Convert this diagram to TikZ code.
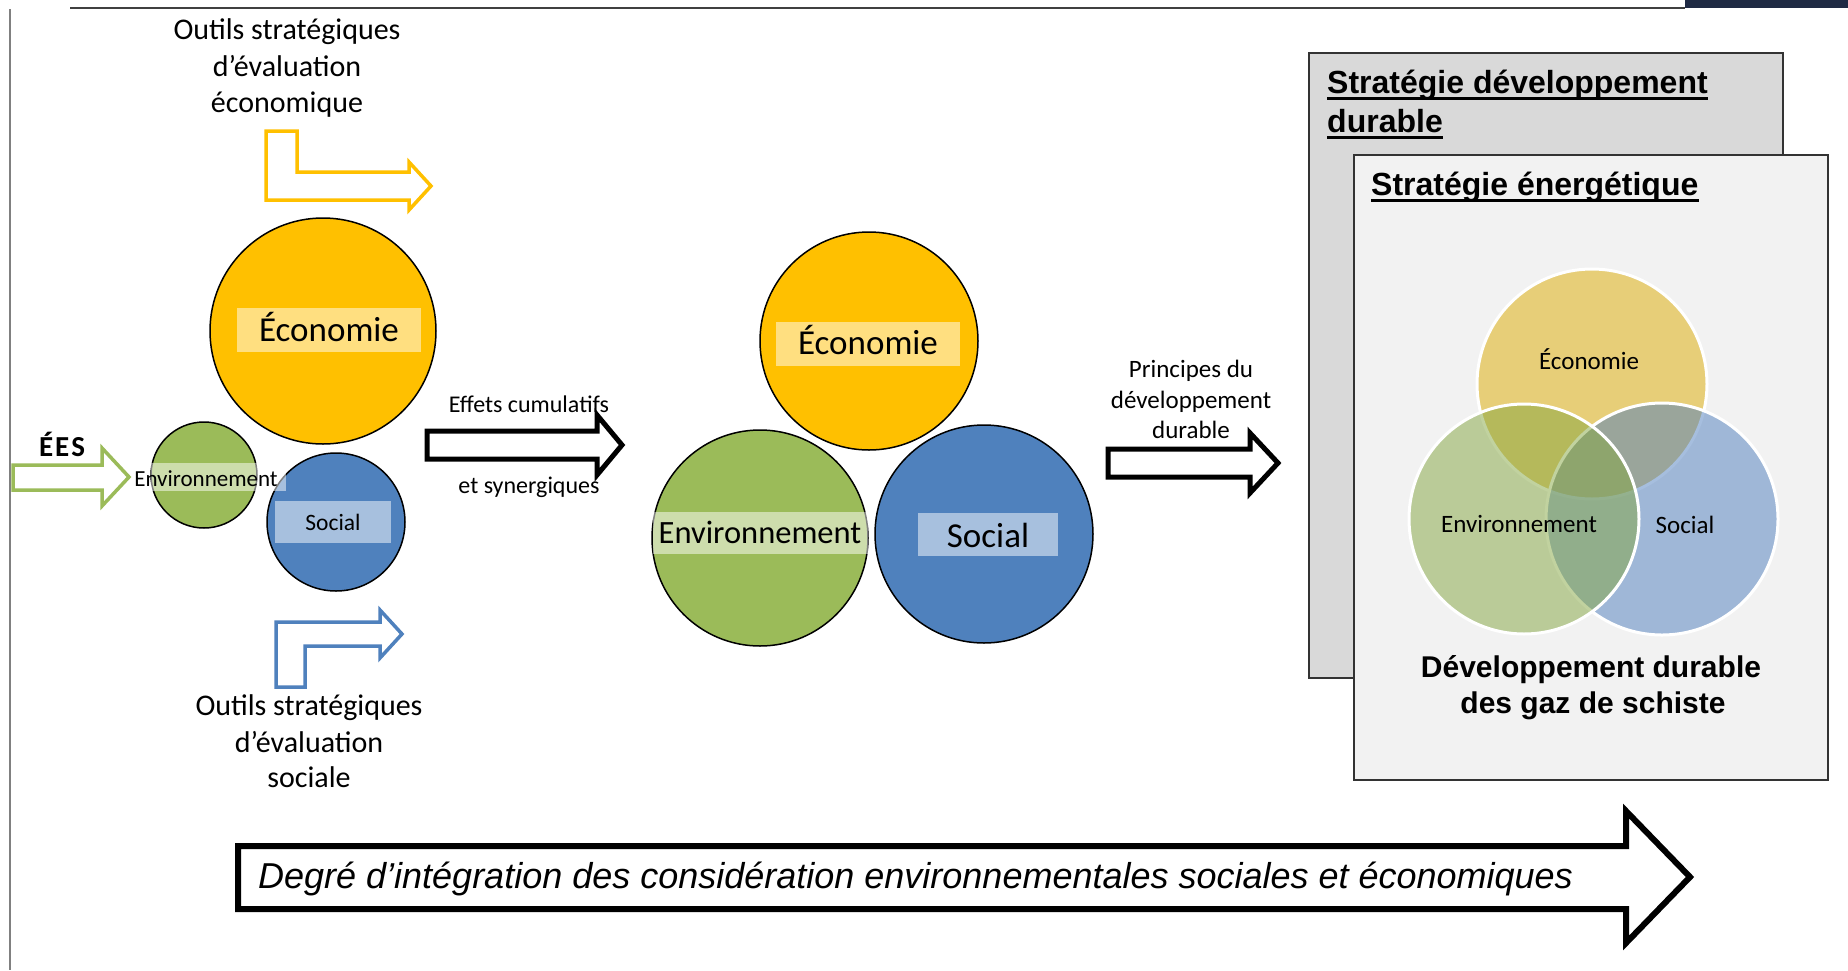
\documentclass[tikz,border=0pt]{standalone}
\usepackage{fontspec}
\setmainfont{Carlito}
\newfontfamily\arial{Liberation Sans}

\definecolor{ecoyellow}{HTML}{FFC000}
\definecolor{envgreen}{HTML}{9BBB59}
\definecolor{socblue}{HTML}{4F81BD}
\definecolor{venyellow}{HTML}{DEAC00}
\definecolor{vengreen}{HTML}{84A640}
\definecolor{venblue}{HTML}{4E7EBE}
\definecolor{backgray}{HTML}{D9D9D9}
\definecolor{frontgray}{HTML}{F2F2F2}
\definecolor{navybar}{HTML}{1F2A44}

\begin{document}
\begin{tikzpicture}[x=1pt,y=-1pt]
      \tikzstyle{every node}+=[inner sep=0pt]
      \tikzstyle{ring}=[circle,draw=black,line width=1.5pt]
      \tikzstyle{venn}=[circle,draw=white,line width=3pt,fill opacity=0.5]
      \tikzstyle{labelbox}=[fill=white,fill opacity=0.5]
      \tikzstyle{blockarrow}=[draw=black,line width=5pt,line join=miter,fill=white]
      \tikzstyle{bentarrow}=[line width=3.5pt,line join=miter,fill=white]
      \tikzstyle{ul}=[line width=3pt]
      \useasboundingbox (0,0) rectangle (1848,970);
      \fill [white] (0,0) rectangle (1848,970);
      \draw [gray,line width=2pt] (10,9) -- (10,970);
      \draw [black!75,line width=2pt] (70,8) -- (1685,8);
      \fill [navybar] (1685,0) rectangle (1848,8);
      % left group
      \draw [bentarrow,draw=ecoyellow] (266,200) -- (266,131) -- (297,131) -- (297,172) -- (409,172) -- (409,162) -- (431,186) -- (409,210) -- (409,200) -- cycle;
      \draw [bentarrow,draw=socblue] (276,687) -- (276,622) -- (380,622) -- (380,610) -- (402,634) -- (380,658) -- (380,646) -- (305,646) -- (305,687) -- cycle;
      \draw [bentarrow,draw=envgreen] (13,465) -- (102,465) -- (102,448) -- (129,477) -- (102,506) -- (102,490) -- (13,490) -- cycle;
      \node [font=\fontsize{30}{36}\selectfont,anchor=base] (outEco1) at (287,39) {Outils stratégiques};
      \node [font=\fontsize{30}{36}\selectfont,anchor=base] (outEco2) at (287,76) {d’évaluation};
      \node [font=\fontsize{30}{36}\selectfont,anchor=base] (outEco3) at (287,112) {économique};
      \node [font=\fontsize{30}{36}\selectfont,anchor=base] (outSoc1) at (309,715) {Outils stratégiques};
      \node [font=\fontsize{30}{36}\selectfont,anchor=base] (outSoc2) at (309,752) {d’évaluation};
      \node [font=\fontsize{30}{36}\selectfont,anchor=base] (outSoc3) at (309,787) {sociale};
      \node [font=\fontsize{29}{34}\selectfont\bfseries,anchor=base] (ees) at (62,456) {É\kern2pt E\kern2pt S};
      \node [ring,minimum size=226pt,fill=ecoyellow] (ecoA) at (323,331) {};
      \node [ring,minimum size=138pt,fill=socblue] (socA) at (336,522) {};
      \node [ring,minimum size=106pt,fill=envgreen] (envA) at (204,475) {};
      \fill [labelbox] (237,308) rectangle (421,352);
      \fill [labelbox] (275,501) rectangle (391,543);
      \fill [labelbox] (151,463) rectangle (286,491);
      \node [font=\fontsize{35}{42}\selectfont,anchor=base] (ecoAtxt) at (329,341) {Économie};
      \node [font=\fontsize{23}{28}\selectfont,anchor=base] (envAtxt) at (206,486) {Environnement};
      \node [font=\fontsize{23.5}{28}\selectfont,anchor=base] (socAtxt) at (333,530) {Social};
      % cumulative effects
      \draw [blockarrow] (427,431) -- (597,431) -- (597,415) -- (622,445) -- (597,475) -- (597,459) -- (427,459) -- cycle;
      \node [font=\fontsize{24}{29}\selectfont,anchor=base] (effets1) at (529,412) {Effets cumulatifs};
      \node [font=\fontsize{24}{29}\selectfont,anchor=base] (effets2) at (529,493) {et synergiques};
      % middle group
      \node [ring,minimum size=218pt,fill=ecoyellow] (ecoB) at (869,341) {};
      \node [ring,minimum size=216pt,fill=envgreen] (envB) at (760,538) {};
      \node [ring,minimum size=218pt,fill=socblue] (socB) at (984,534) {};
      \fill [labelbox] (776,322) rectangle (960,366);
      \fill [labelbox] (653,512) rectangle (868,554);
      \fill [labelbox] (918,513) rectangle (1058,556);
      \node [font=\fontsize{35}{42}\selectfont,anchor=base] (ecoBtxt) at (868,354) {Économie};
      \node [font=\fontsize{32.5}{39}\selectfont,anchor=base] (envBtxt) at (760,543) {Environnement};
      \node [font=\fontsize{35}{42}\selectfont,anchor=base] (socBtxt) at (988,547) {Social};
      % principles
      \draw [blockarrow] (1108,449) -- (1250,449) -- (1250,433) -- (1278,463) -- (1250,493) -- (1250,477) -- (1108,477) -- cycle;
      \node [font=\fontsize{25}{30}\selectfont,anchor=base] (princ1) at (1191,377) {Principes du};
      \node [font=\fontsize{25}{30}\selectfont,anchor=base] (princ2) at (1191,408) {développement};
      \node [font=\fontsize{25}{30}\selectfont,anchor=base] (princ3) at (1191,438) {durable};
      % strategy boxes
      \draw [fill=backgray,draw=black!80,line width=2pt] (1309,53) rectangle (1783,678);
      \draw [fill=frontgray,draw=black!80,line width=2pt] (1354,155) rectangle (1828,780);
      \node [font=\fontsize{32}{39}\selectfont\arial\bfseries,anchor=base west] (sdd1) at (1327,93) {Stratégie développement};
      \node [font=\fontsize{32}{39}\selectfont\arial\bfseries,anchor=base west] (sdd2) at (1327,132) {durable};
      \node [font=\fontsize{32}{39}\selectfont\arial\bfseries,anchor=base west] (se) at (1371,195) {Stratégie énergétique};
      \draw [ul] ([yshift=-5pt]sdd1.base west) -- ([yshift=-5pt]sdd1.base east);
      \draw [ul] ([yshift=-5pt]sdd2.base west) -- ([yshift=-5pt]sdd2.base east);
      \draw [ul] ([yshift=-5pt]se.base west) -- ([yshift=-5pt]se.base east);
      % venn
      \node [venn,minimum size=230pt,fill=venyellow] (ecoC) at (1592,384) {};
      \node [venn,minimum size=232pt,fill=venblue] (socC) at (1662,519) {};
      \node [venn,minimum size=230pt,fill=vengreen] (envC) at (1524,519) {};
      \node [font=\fontsize{25}{30}\selectfont,anchor=base] (ecoCtxt) at (1589,369) {Économie};
      \node [font=\fontsize{25}{30}\selectfont,anchor=base] (envCtxt) at (1519,532) {Environnement};
      \node [font=\fontsize{25}{30}\selectfont,anchor=base] (socCtxt) at (1685,533) {Social};
      \node [font=\fontsize{30}{37}\selectfont\arial\bfseries,anchor=base] (ddgs1) at (1591,677) {Développement durable};
      \node [font=\fontsize{30}{37}\selectfont\arial\bfseries,anchor=base] (ddgs2) at (1593,713) {des gaz de schiste};
      % integration degree
      \draw [blockarrow,line width=6pt] (238,846) -- (1626,846) -- (1626,811) -- (1690,877) -- (1626,943) -- (1626,909) -- (238,909) -- cycle;
      \node [font=\fontsize{36}{43}\selectfont\arial\itshape,anchor=base west] (degre) at (258,888) {Degré d’intégration des considération environnementales sociales et économiques};
    \end{tikzpicture}
\end{document}
